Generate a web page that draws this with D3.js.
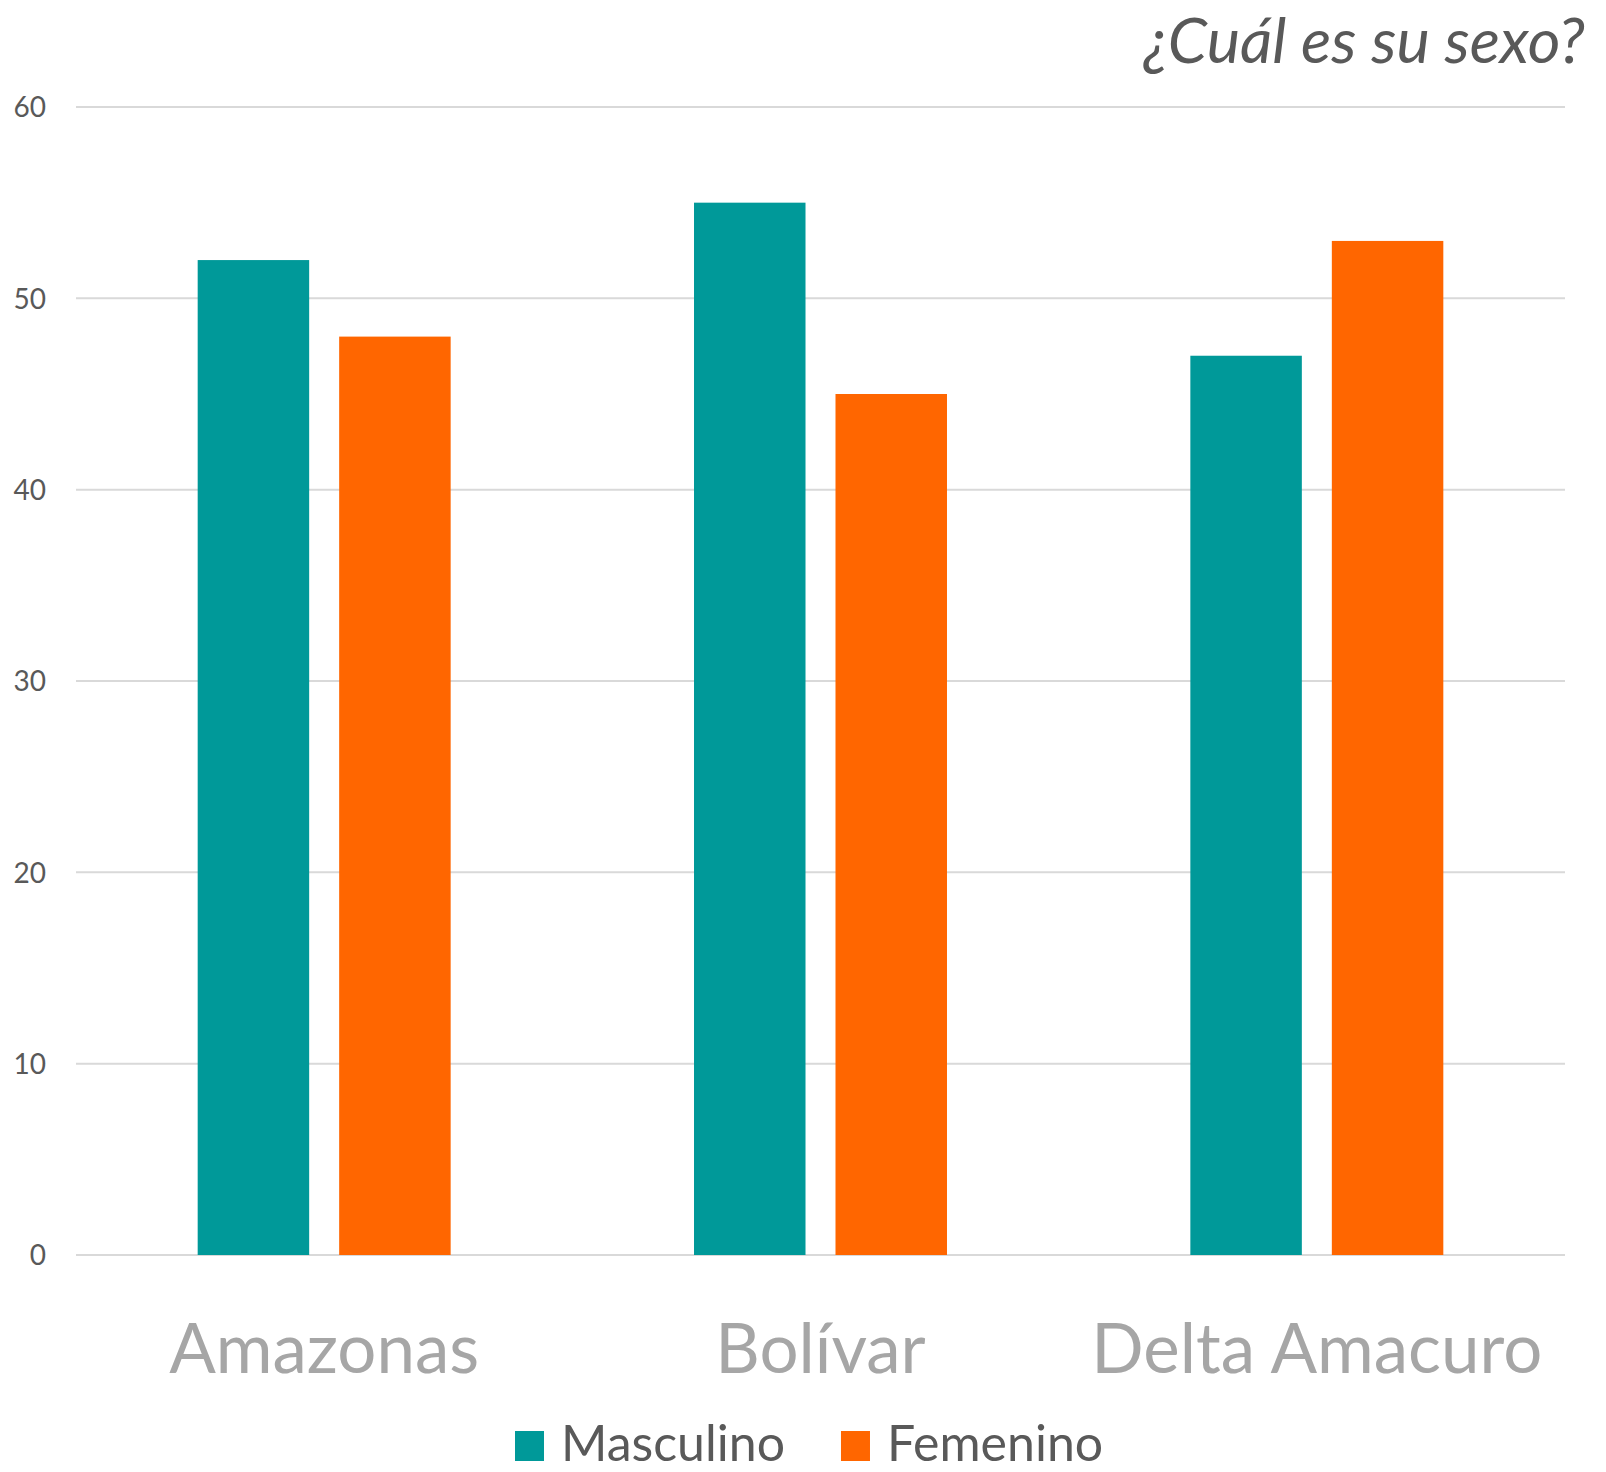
<!DOCTYPE html>
<html><head><meta charset="utf-8">
<script src="https://cdn.jsdelivr.net/npm/d3@7"></script>
<style>body{margin:0;background:#fff}svg{display:block}</style>
</head><body>
<svg id="c" width="1606" height="1472"></svg>
<script>
const categories = ["Amazonas", "Bolívar", "Delta Amacuro"];
const seriesNames = ["Masculino", "Femenino"];
const masculino = [52, 55, 47];
const femenino = [48, 45, 53];
const yTicks = [0, 10, 20, 30, 40, 50, 60];
const titleText = "¿Cuál es su sexo?";
const colors = ["#009999", "#FF6600"];

const values = [masculino, femenino];
const W = 1606, H = 1472;
const m = {left: 76, right: 41, top: 107, bottom: 1255};
const svg = d3.select("#c");
const FONT = "Lato, 'Open Sans', sans-serif";

const x0 = d3.scaleBand().domain(categories).range([m.left, W - m.right]).paddingInner(0).paddingOuter(0);
const x1 = d3.scaleBand().domain(seriesNames).range([0, x0.bandwidth()]).paddingInner(0.212).paddingOuter(0.86);
const y = d3.scaleLinear().domain([0, 60]).range([m.bottom, m.top]);

// gridlines
svg.append("g").selectAll("line").data(yTicks).join("line")
  .attr("x1", m.left).attr("x2", W - m.right)
  .attr("y1", d => y(d)).attr("y2", d => y(d))
  .attr("stroke", "#D9D9D9").attr("stroke-width", 2);

// y labels via axis
const yAxis = d3.axisLeft(y).tickValues(yTicks).tickSize(0).tickPadding(0);
const gy = svg.append("g").attr("transform", `translate(46,0)`).call(yAxis);
gy.select(".domain").remove();
gy.selectAll("text").attr("font-family", FONT).attr("font-size", 28).attr("fill", "#595959").attr("dy", "0.35em");

// bars
const rows = categories.map((c, i) => ({c, vals: seriesNames.map((s, j) => ({s, v: values[j][i], j}))}));
svg.append("g").selectAll("g").data(rows).join("g")
  .attr("transform", d => `translate(${x0(d.c)},0)`)
  .selectAll("rect").data(d => d.vals).join("rect")
  .attr("x", d => x1(d.s)).attr("width", x1.bandwidth())
  .attr("y", d => y(d.v)).attr("height", d => y(0) - y(d.v))
  .attr("fill", d => colors[d.j]);

// x labels
const xAxis = d3.axisBottom(x0).tickSize(0).tickPadding(0);
const gx = svg.append("g").attr("transform", `translate(0,1373)`).call(xAxis);
gx.select(".domain").remove();
gx.selectAll("text").attr("font-family", FONT).attr("font-size", 69).attr("fill", "#A6A6A6").attr("dy", 0);

// title
svg.append("text").attr("x", 1585).attr("y", 63).attr("text-anchor", "end")
  .attr("font-family", FONT).attr("font-style", "italic").attr("font-size", 63).attr("fill", "#595959")
  .text(titleText);

// legend
const lg = svg.append("g");
let lx = 515;
seriesNames.forEach((s, i) => {
  lg.append("rect").attr("x", lx).attr("y", 1431).attr("width", 29).attr("height", 30).attr("fill", colors[i]);
  const t = lg.append("text").attr("x", lx + 46).attr("y", 1461)
    .attr("font-family", FONT).attr("font-size", 50).attr("fill", "#595959").text(s);
  lx += 46 + t.node().getComputedTextLength() + 56;
});
</script>
</body></html>
